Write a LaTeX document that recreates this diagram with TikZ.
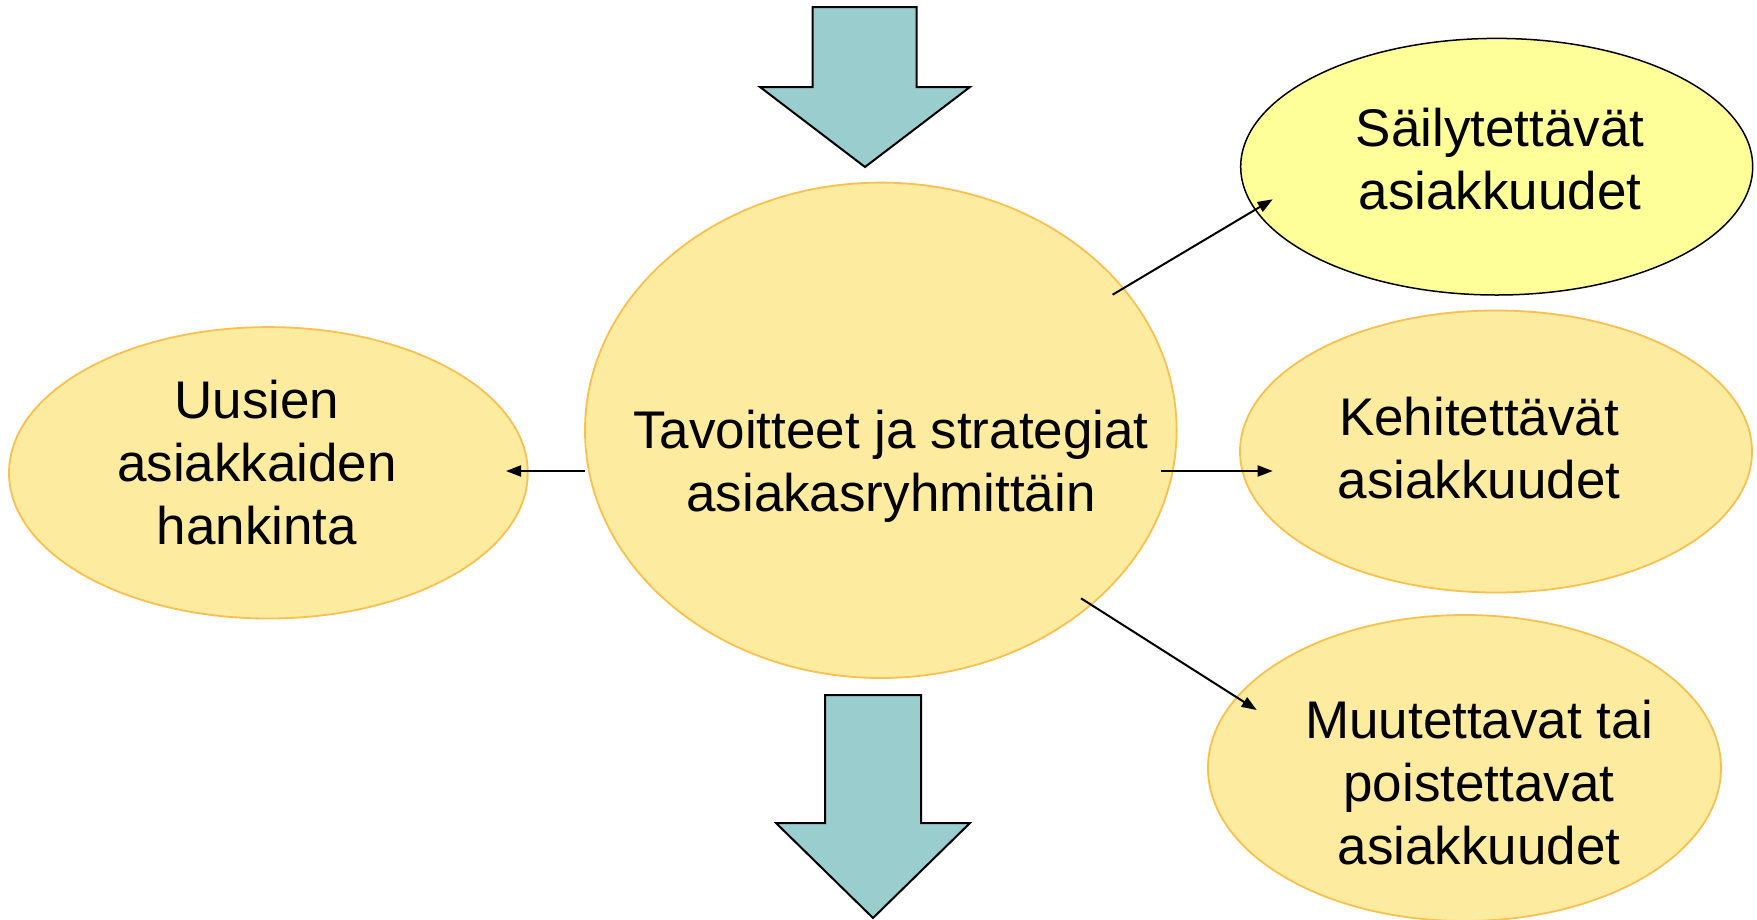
\documentclass[tikz,border=0pt]{standalone}
\usepackage{fontspec}
\setmainfont{Liberation Sans}
\usetikzlibrary{shapes.geometric,arrows.meta,calc}
\definecolor{bubblefill}{RGB}{253,235,160}
\definecolor{bubbleedge}{RGB}{249,192,80}
\definecolor{keepfill}{RGB}{255,255,153}
\definecolor{blockfill}{RGB}{154,205,205}
\tikzset{
  bubble/.style={ellipse, draw=bubbleedge, fill=bubblefill, line width=1.8pt, inner sep=0pt},
  keepbubble/.style={ellipse, draw=black, fill=keepfill, line width=1.5pt, inner sep=0pt},
  label/.style={align=center, inner sep=0pt, font=\fontsize{53}{63}\selectfont},
  link/.style={line width=2pt, -{Triangle[length=15pt,width=11pt]}},
  block/.style={draw=black, fill=blockfill, line width=2pt, line join=miter}
}
\begin{document}
\begin{tikzpicture}[x=1pt, y=-1pt]
\useasboundingbox (0,0) rectangle (1757,919);
% bubbles
\node[bubble, minimum width=591.6pt, minimum height=495.4pt] (c) at (880.8,430.3) {};
\node[bubble, minimum width=518.8pt, minimum height=291.4pt] (new) at (268.4,472.8) {};
\node[keepbubble, minimum width=512pt, minimum height=256.6pt] (keep) at (1496.7,166.7) {};
\node[bubble, minimum width=512pt, minimum height=282pt] (dev) at (1496,451.5) {};
\node[bubble, minimum width=513pt, minimum height=306pt] (drop) at (1464.5,768) {};
% texts
\node[label] (ct) at (891,466) {Tavoitteet ja strategiat\\asiakasryhmittäin};
\node[label] (newt) at (257,463) {Uusien\\asiakkaiden\\hankinta};
\node[label] (keept) at (1500,159.5) {Säilytettävät\\asiakkuudet};
\node[label] (devt) at (1479,448.5) {Kehitettävät\\asiakkuudet};
\node[label] (dropt) at (1479,783) {Muutettavat tai\\poistettavat\\asiakkuudet};
% connector ends
\coordinate (s1) at ($(c.center)+(231.8,-135.6)$);
\coordinate (e1) at ($(keep.center)+(-224,32.6)$);
\coordinate (s2) at ($(c.center)+(-295.8,40.7)$);
\coordinate (e2) at ($(new.center)+(237.6,-1.8)$);
\coordinate (s3) at ($(c.center)+(280.2,40.7)$);
\coordinate (e3) at ($(dev.center)+(-223.3,19.5)$);
\coordinate (s4) at ($(c.center)+(200.2,168)$);
\coordinate (e4) at ($(drop.center)+(-207.8,-58)$);
\draw[link] (s1) -- (e1);
\draw[link] (s2) -- (e2);
\draw[link] (s3) -- (e3);
\draw[link] (s4) -- (e4);
% block arrows above and below
\draw[block] (812.7,7) -- (916.7,7) -- (916.7,87) -- (970,87) -- (865,167)
  -- (760,87) -- (812.7,87) -- cycle;
\draw[block] (825,695) -- (921,695) -- (921,823) -- (970,823) -- (873,918)
  -- (776,823) -- (825,823) -- cycle;
\end{tikzpicture}
\end{document}
